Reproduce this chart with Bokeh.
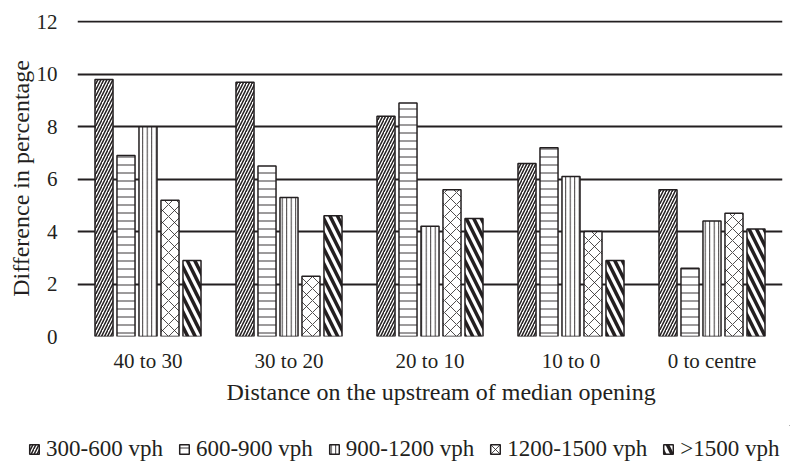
from bokeh.plotting import figure
from bokeh.layouts import column
from bokeh.models import ColumnDataSource, Range1d, FactorRange, Legend, LegendItem, Title
from bokeh.transform import dodge
from bokeh.embed import file_html
from bokeh.resources import INLINE

categories = ["40 to 30", "30 to 20", "20 to 10", "10 to 0", "0 to centre"]
series_names = ["300-600 vph", "600-900 vph", "900-1200 vph", "1200-1500 vph", ">1500 vph"]
s300_600 = [9.8, 9.7, 8.4, 6.6, 5.6]
s600_900 = [6.9, 6.5, 8.9, 7.2, 2.6]
s900_1200 = [8.0, 5.3, 4.2, 6.1, 4.4]
s1200_1500 = [5.2, 2.3, 5.6, 4.0, 4.7]
s1500_plus = [2.9, 4.6, 4.5, 2.9, 4.1]
y_ticks = [0, 2, 4, 6, 8, 10, 12]

series = [s300_600, s600_900, s900_1200, s1200_1500, s1500_plus]
keys = ["a", "b", "c", "d", "e"]
data = {"cat": categories}
for k, s in zip(keys, series):
    data[k] = s
source = ColumnDataSource(data)

INK = "#231f20"
FONT = "Liberation Serif"

p = figure(width=790, height=425, x_range=FactorRange(*categories, range_padding=0),
           y_range=Range1d(0, 12.05), output_backend="svg", toolbar_location=None,
           min_border_left=77, min_border_right=8, min_border_top=20, min_border_bottom=89)
p.outline_line_color = None
p.frame_align = False

styles = [
    dict(hatch_pattern="/", hatch_scale=6, hatch_weight=1.5),
    dict(hatch_pattern="-", hatch_scale=8, hatch_weight=0.9),
    dict(hatch_pattern="|", hatch_scale=4.5, hatch_weight=0.9),
    dict(hatch_pattern="x", hatch_scale=12, hatch_weight=0.8),
    dict(hatch_pattern="\\", hatch_scale=15, hatch_weight=3.5),
]
bar_style = dict(fill_color="white", line_color=INK, line_width=1.5, hatch_color=INK)
offsets = [-0.312, -0.156, 0.0, 0.156, 0.312]
for k, off, st in zip(keys, offsets, styles):
    p.vbar(x=dodge("cat", off, range=p.x_range), top=k, width=0.128, source=source,
           **bar_style, **st)

p.yaxis.ticker = y_ticks
p.ygrid.grid_line_color = INK
p.ygrid.grid_line_width = 2
p.xgrid.grid_line_color = None
for ax in (p.xaxis, p.yaxis):
    ax.axis_line_color = None
    ax.major_tick_line_color = None
    ax.minor_tick_line_color = None
    ax.major_tick_out = 0
    ax.major_tick_in = 0
    ax.major_label_text_font = FONT
    ax.major_label_text_font_size = "21px"
    ax.major_label_text_color = INK
    ax.axis_label_text_font = FONT
    ax.axis_label_text_font_size = "24px"
    ax.axis_label_text_font_style = "normal"
    ax.axis_label_text_color = INK
p.yaxis.major_label_standoff = 20
p.xaxis.major_label_standoff = 12
p.yaxis.axis_label = "Difference in percentage"
p.yaxis.axis_label_standoff = 0

xlabel = Title(text="Distance on the upstream of median opening", align="left", offset=149,
               text_font=FONT, text_font_size="24px", text_font_style="normal",
               text_color=INK, standoff=2)
p.add_layout(xlabel, "below")

# legend strip (its proxy bars lie outside the strip's ranges; only their legend swatches show)
lf = figure(width=790, height=38, x_range=Range1d(0, 1), y_range=Range1d(0, 1),
            output_backend="svg", toolbar_location=None, x_axis_type=None, y_axis_type=None,
            min_border=0, min_border_left=0, min_border_right=0, min_border_top=0,
            min_border_bottom=0)
lf.outline_line_color = None
lf.frame_align = False
lf.xgrid.visible = False
lf.ygrid.visible = False
leg_renderers = [lf.vbar(x=[5], top=[5], bottom=[4], width=0.1, **bar_style, **st) for st in styles]
legend = Legend(items=[LegendItem(label=n, renderers=[r]) for n, r in zip(series_names, leg_renderers)],
                orientation="horizontal", location=(28, 1),
                label_text_font=FONT, label_text_font_size="23px", label_text_color=INK,
                glyph_width=12, glyph_height=12, label_standoff=6, spacing=15,
                border_line_color=None, background_fill_alpha=0, padding=0, margin=0)
lf.add_layout(legend, "center")

layout = column(p, lf, spacing=0)
open("out.html", "w").write(file_html(layout, INLINE))
